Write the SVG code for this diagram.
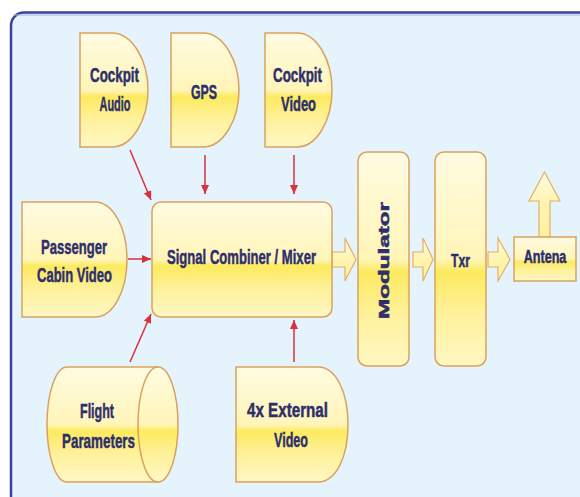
<svg xmlns="http://www.w3.org/2000/svg" width="580" height="497" viewBox="0 0 580 497">
<defs>
<linearGradient id="yg" x1="0" y1="0" x2="0" y2="1">
<stop offset="0" stop-color="#fffbe2"/>
<stop offset="0.5" stop-color="#fff5b8"/>
<stop offset="0.56" stop-color="#fcea5e"/>
<stop offset="0.75" stop-color="#fff19a"/>
<stop offset="1" stop-color="#fff7c4"/>
</linearGradient>
<linearGradient id="ag" x1="0" y1="0" x2="0" y2="1">
<stop offset="0" stop-color="#fffbe0"/>
<stop offset="0.5" stop-color="#fff4b0"/>
<stop offset="1" stop-color="#fff0a0"/>
</linearGradient>
<marker id="ah" markerUnits="userSpaceOnUse" markerWidth="10" markerHeight="8" refX="9" refY="4" orient="auto">
<path d="M0,0 L9,4 L0,8 Z" fill="#d8323a"/>
</marker>
</defs>
<style>
.sh{fill:url(#yg);stroke:#d9a25e;stroke-width:1.5}
.fa{fill:url(#ag);stroke:#e2b068;stroke-width:1.2}
.t{font-family:"Liberation Sans",Arial,sans-serif;font-weight:bold;font-size:21px;fill:#2d2f6c;stroke:#2d2f6c;stroke-width:0.5;text-anchor:middle}
.c{stroke:#d8323a;stroke-width:1.5;fill:none;marker-end:url(#ah)}
</style>
<rect x="0" y="0" width="580" height="497" fill="#ffffff"/>
<rect x="11" y="12.5" width="620" height="520" rx="13" fill="#e5f3fc" stroke="#3c4396" stroke-width="2.5"/>
<path d="M13,15 H580" stroke="#a8b2de" stroke-width="1" fill="none"/>

<g id="connectors">
<line class="c" x1="130" y1="150" x2="151" y2="200"/>
<line class="c" x1="205" y1="155" x2="205" y2="194"/>
<line class="c" x1="294" y1="155" x2="294" y2="194"/>
<line class="c" x1="128" y1="259" x2="151" y2="259"/>
<line class="c" x1="130" y1="362" x2="151" y2="314"/>
<line class="c" x1="294" y1="362" x2="294" y2="320"/>
<path class="fa" d="M332,252 H345 V238 L356,259.5 L345,281 V267 H332 Z"/>
<path class="fa" d="M413,252 H423 V238 L433,259.5 L423,281 V267 H413 Z"/>
<path class="fa" d="M488,252 H498 V238 L510,259.5 L498,281 V267 H488 Z"/>
</g>

<g id="cockpit-audio">
<path class="sh" d="M80,33 H112 C132,33 148,60 148,90 C148,120 132,147 112,147 H80 Z"/>
<text class="t" x="114.5" y="82" textLength="49" lengthAdjust="spacingAndGlyphs">Cockpit</text>
<text class="t" x="115" y="111" textLength="31" lengthAdjust="spacingAndGlyphs">Audio</text>
</g>

<g id="gps">
<path class="sh" d="M171,33 H203 C223,33 239,60 239,90 C239,120 223,147 203,147 H171 Z"/>
<text class="t" x="204" y="99" textLength="26" lengthAdjust="spacingAndGlyphs">GPS</text>
</g>

<g id="cockpit-video">
<path class="sh" d="M265,33 H297 C317,33 332,60 332,90 C332,120 317,147 297,147 H265 Z"/>
<text class="t" x="297.5" y="82" textLength="49" lengthAdjust="spacingAndGlyphs">Cockpit</text>
<text class="t" x="298.5" y="111" textLength="35" lengthAdjust="spacingAndGlyphs">Video</text>
</g>

<g id="passenger-cabin-video">
<path class="sh" d="M22,202 H95 C113,202 127,228 127,259.5 C127,291 113,317 95,317 H22 Z"/>
<text class="t" x="74" y="254" textLength="66" lengthAdjust="spacingAndGlyphs">Passenger</text>
<text class="t" x="74.5" y="282" textLength="75" lengthAdjust="spacingAndGlyphs">Cabin Video</text>
</g>

<g id="signal-combiner">
<rect class="sh" x="152" y="202" width="180" height="115" rx="9"/>
<text class="t" x="241.5" y="264" textLength="149" lengthAdjust="spacingAndGlyphs">Signal Combiner / Mixer</text>
</g>

<g id="modulator">
<rect class="sh" x="358" y="152" width="51" height="214" rx="9"/>
<text class="t" transform="translate(389,260.5) rotate(-90)" x="0" y="0" style="font-size:14px" textLength="117" lengthAdjust="spacingAndGlyphs">Modulator</text>
</g>

<g id="txr">
<rect class="sh" x="435" y="152" width="51" height="214" rx="9"/>
<text class="t" x="460.5" y="267" style="font-size:18px" textLength="19" lengthAdjust="spacingAndGlyphs">Txr</text>
</g>

<g id="antena">
<path class="fa" d="M539,237 V201 H529 L544.5,172 L560,201 H550 V237 Z"/>
<rect class="sh" x="514" y="237" width="62" height="44"/>
<text class="t" transform="translate(545,263) scale(0.7,1)" x="0" y="0" style="font-size:18px">Antena</text>
</g>

<g id="flight-parameters">
<path class="sh" d="M67,367 H158 A20,57.5 0 0 1 158,482 H67 A20,57.5 0 0 1 67,367 Z"/>
<path d="M158,367 A20,57.5 0 0 0 158,482" fill="none" stroke="#d9a25e" stroke-width="1.5"/>
<text class="t" x="97" y="418" textLength="34" lengthAdjust="spacingAndGlyphs">Flight</text>
<text class="t" x="98.5" y="448" textLength="73" lengthAdjust="spacingAndGlyphs">Parameters</text>
</g>

<g id="external-video">
<path class="sh" d="M236,367 H318 C336,367 348,392 348,424.5 C348,457 336,482 318,482 H236 Z"/>
<text class="t" x="287.5" y="417" textLength="81" lengthAdjust="spacingAndGlyphs">4x External</text>
<text class="t" x="291" y="447" textLength="34" lengthAdjust="spacingAndGlyphs">Video</text>
</g>
</svg>
